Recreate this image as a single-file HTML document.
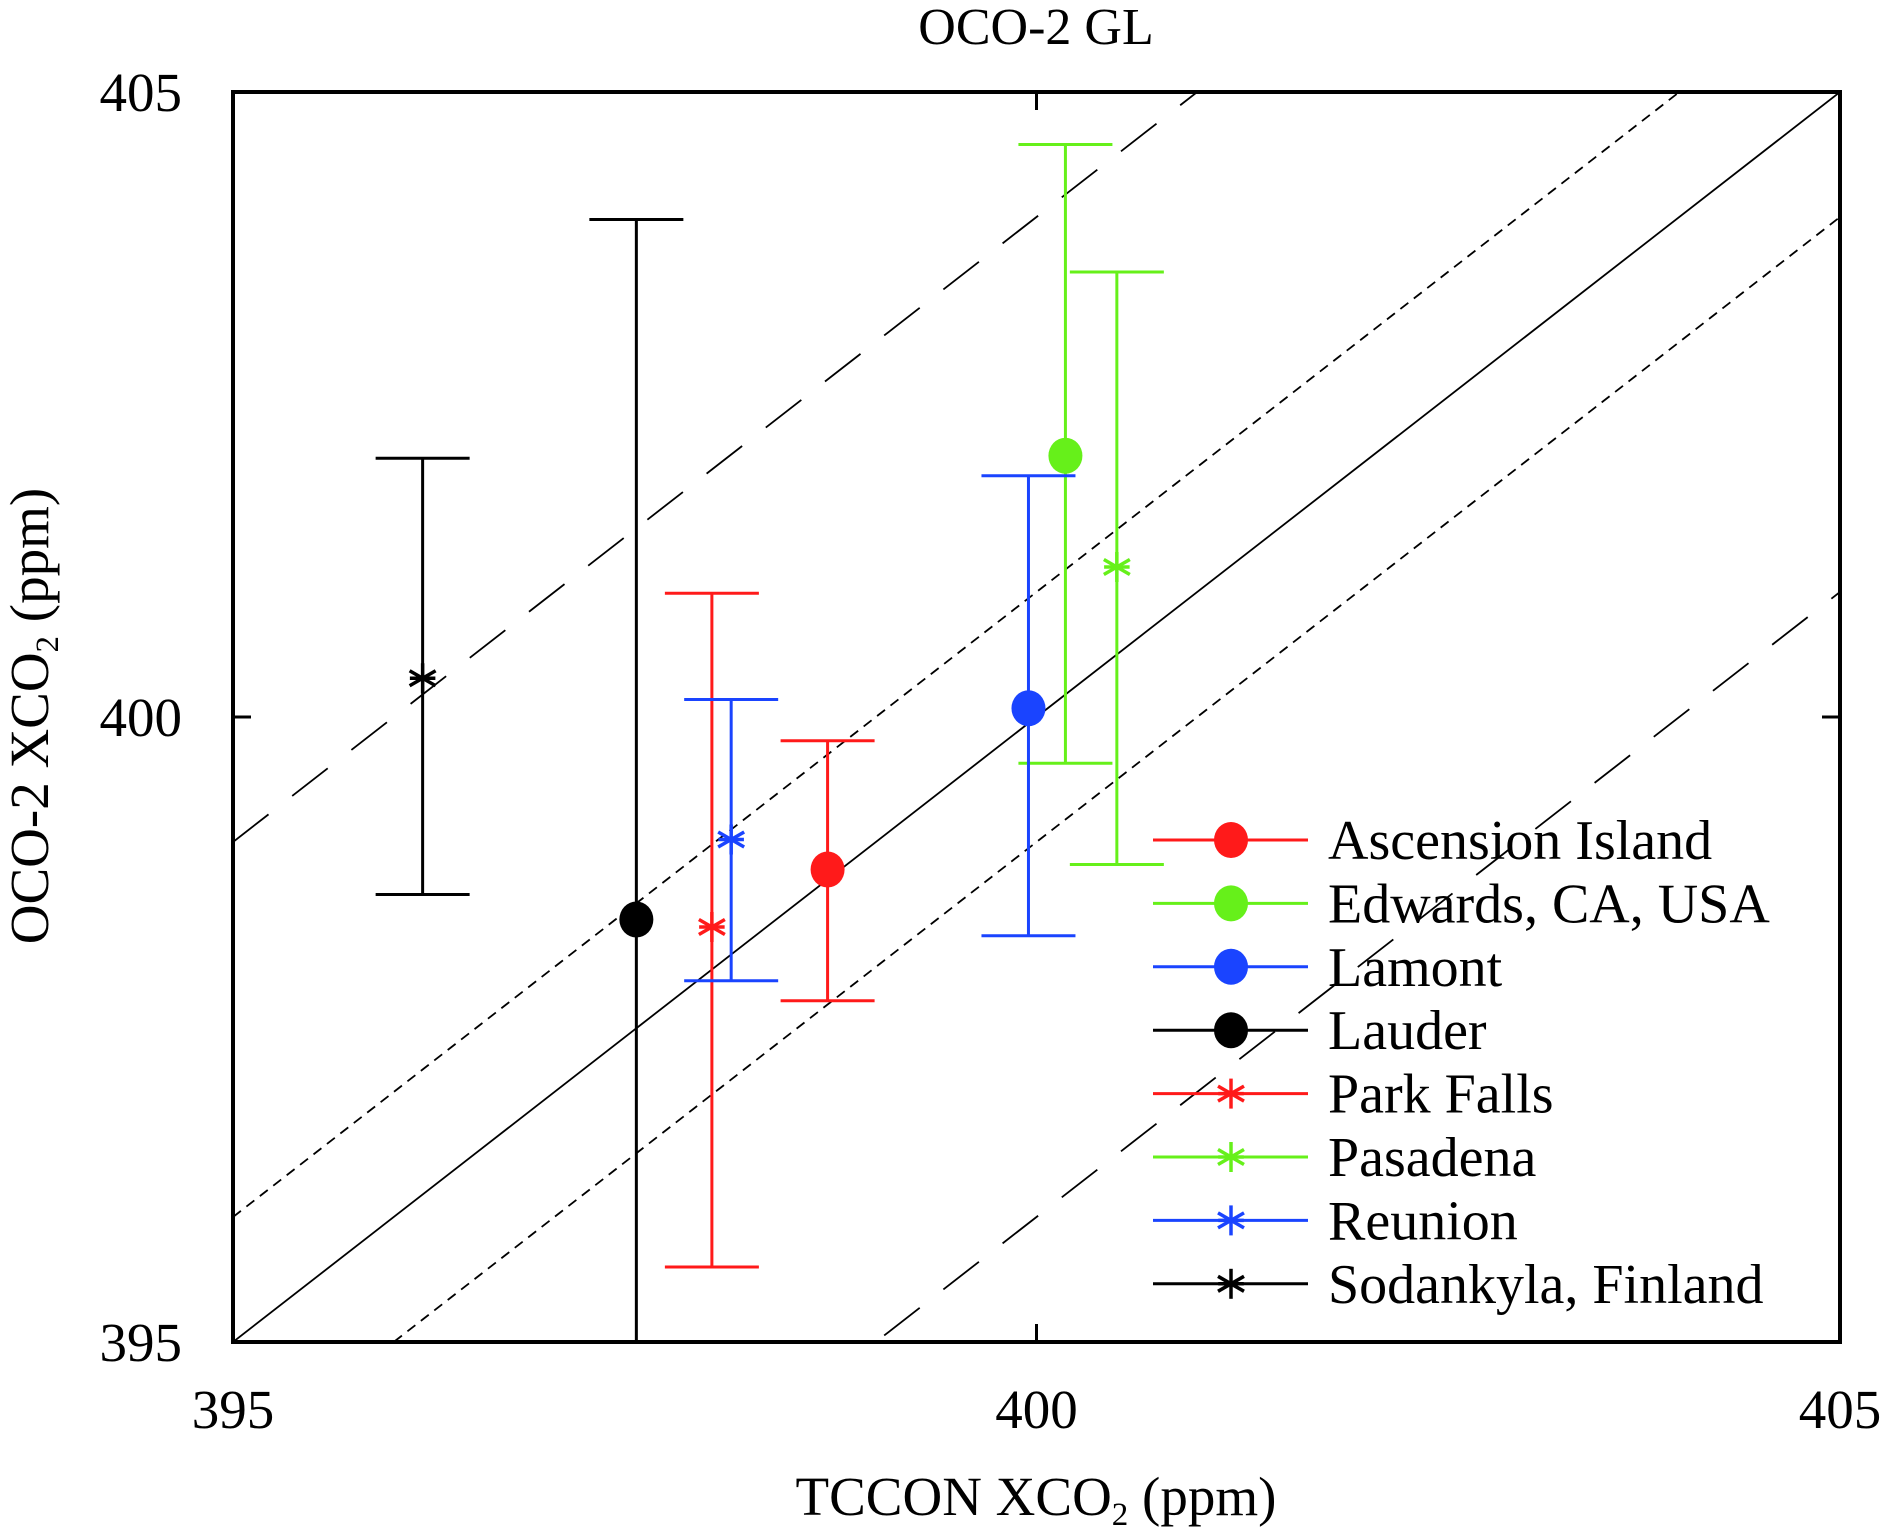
<!DOCTYPE html>
<html><head><meta charset="utf-8"><style>
html,body{margin:0;padding:0;background:#fff;overflow:hidden;width:1890px;height:1535px}
svg{display:block;font-family:"Liberation Serif",serif}
</style></head><body>
<svg id="chart" width="1890" height="1535" viewBox="0 0 1890 1535" xmlns="http://www.w3.org/2000/svg">
<text x="1036" y="44" font-size="52" text-anchor="middle">OCO-2 GL</text>
<text x="1036" y="1515" font-size="55" text-anchor="middle">TCCON XCO<tspan font-size="33" dy="10">2</tspan><tspan dy="-10"> (ppm)</tspan></text>
<text transform="translate(48,716) rotate(-90)" font-size="55" text-anchor="middle">OCO-2 XCO<tspan font-size="33" dy="10">2</tspan><tspan dy="-10"> (ppm)</tspan></text>
<g id="plot"></g>
</svg>
<script>
const names = ["Ascension Island","Edwards, CA, USA","Lamont","Lauder","Park Falls","Pasadena","Reunion","Sodankyla, Finland"];
const colors = ["#ff1a1a","#66f01a","#1a44ff","#000000","#ff1a1a","#66f01a","#1a44ff","#000000"];
const markers = ["circle","circle","circle","circle","star","star","star","star"];
const xVals = [398.70,400.18,399.95,397.51,397.98,400.50,398.10,396.18];
const yVals = [398.78,402.09,400.07,398.38,398.32,401.20,399.02,400.31];
const yHigh = [399.81,404.58,401.93,403.98,400.99,403.56,400.14,402.07];
const yLow = [397.73,399.63,398.25,395.00,395.60,398.82,397.89,398.58];
const ticks = [395,400,405];
const refOffsets = [0,1,-1,4,-4];
const refDash = ["","10,7","10,7","45,30","45,30"];

const L=233,R=1840,T=92,B=1342,MIN=395,MAX=405;
const sx=v=>L+(v-MIN)/(MAX-MIN)*(R-L);
const sy=v=>B-(v-MIN)/(MAX-MIN)*(B-T);
const NS="http://www.w3.org/2000/svg";
const g=document.getElementById('plot');
function mk(tag,attrs,parent){const e=document.createElementNS(NS,tag);for(const k in attrs)e.setAttribute(k,attrs[k]);(parent||g).appendChild(e);return e;}

const defs=mk('defs',{});
const cp=mk('clipPath',{id:'clip'},defs);
mk('rect',{x:L,y:T,width:R-L,height:B-T},cp);

refOffsets.forEach((o,i)=>{
  const l=mk('line',{x1:sx(MIN),y1:sy(MIN+o),x2:sx(MAX),y2:sy(MAX+o),stroke:'#000','stroke-width':1.8,'stroke-dasharray':refDash[i],'clip-path':'url(#clip)'});
  
  
});

function star(cx,cy,s,color,parent){
  const grp=mk('g',{stroke:color,'stroke-width':3.5},parent);
  for(let a=0;a<180;a+=60){const r=a*Math.PI/180+Math.PI/2;
    mk('line',{x1:cx-s*Math.cos(r),y1:cy-s*Math.sin(r),x2:cx+s*Math.cos(r),y2:cy+s*Math.sin(r)},grp);}
  mk('line',{x1:cx-s*0.85,y1:cy,x2:cx+s*0.85,y2:cy},grp);
  return grp;
}

names.forEach((n,i)=>{
  const grp=mk('g',{});
  
  
  const x=sx(xVals[i]),c=colors[i],w=47;
  mk('line',{x1:x,y1:sy(yHigh[i]),x2:x,y2:sy(yLow[i]),stroke:c,'stroke-width':3},grp);
  mk('line',{x1:x-w,y1:sy(yHigh[i]),x2:x+w,y2:sy(yHigh[i]),stroke:c,'stroke-width':3},grp);
  if(yLow[i]>MIN) mk('line',{x1:x-w,y1:sy(yLow[i]),x2:x+w,y2:sy(yLow[i]),stroke:c,'stroke-width':3},grp);
  if(markers[i]==='circle'){
    const m=mk('ellipse',{cx:x,cy:sy(yVals[i]),rx:17,ry:18,fill:c},grp);
    
    
  } else {
    const m=star(x,sy(yVals[i]),15,c,grp);
    
    
  }
});

const fr=mk('rect',{x:L,y:T,width:R-L,height:B-T,fill:'none',stroke:'#000','stroke-width':4});



ticks.forEach(t=>{
  mk('line',{x1:sx(t),y1:B,x2:sx(t),y2:B-18,stroke:'#000','stroke-width':3});
  mk('line',{x1:sx(t),y1:T,x2:sx(t),y2:T+18,stroke:'#000','stroke-width':3});
  mk('line',{x1:L,y1:sy(t),x2:L+18,y2:sy(t),stroke:'#000','stroke-width':3});
  mk('line',{x1:R,y1:sy(t),x2:R-18,y2:sy(t),stroke:'#000','stroke-width':3});
  const xl=mk('text',{x:sx(t),y:1428,'font-size':55,'text-anchor':'middle'});
  xl.textContent=t;
  
  
  const yl=mk('text',{x:182,y:sy(t)+19,'font-size':55,'text-anchor':'end'});
  yl.textContent=t;
  
  
});

const lg=mk('g',{});


names.forEach((n,i)=>{
  const y=840+i*63.4;
  const e=mk('g',{},lg);
  
  
  mk('line',{x1:1153,y1:y,x2:1308,y2:y,stroke:colors[i],'stroke-width':3},e);
  if(markers[i]==='circle') mk('ellipse',{cx:1231,cy:y,rx:17,ry:18,fill:colors[i]},e);
  else star(1231,y,15,colors[i],e);
  const t=mk('text',{x:1328,y:y+19,'font-size':56},e);
  t.textContent=n;
});
</script>
</body></html>
